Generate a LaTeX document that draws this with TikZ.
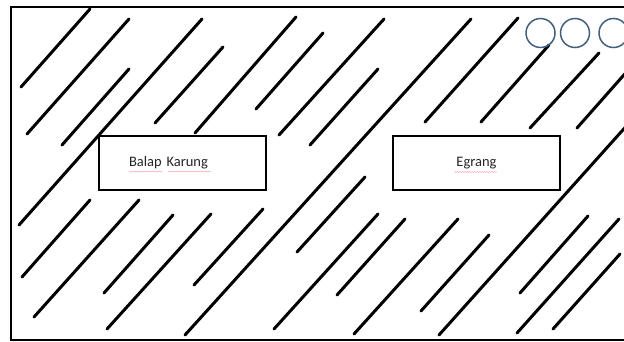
\documentclass[tikz,border=0pt]{standalone}
\usepackage{fontspec}
\setmainfont{Carlito}
\usetikzlibrary{decorations.pathmorphing}
\definecolor{circblue}{HTML}{41607F}
\tikzset{
  hatch/.style={line width=3pt, line cap=round, black},
  frameline/.style={line width=1.8pt, black},
  gamebox/.style={draw=black, line width=2.2pt, fill=white, minimum height=54pt,
    font=\fontsize{14.5}{17}\selectfont, text=black!85},
  ring/.style={draw=circblue, line width=1.5pt},
  squig/.style={draw=red!35, line width=0.45pt, decorate,
    decoration={snake, amplitude=0.5pt, segment length=2.5pt}}
}
\begin{document}
\begin{tikzpicture}[x=1pt, y=-1pt]
\useasboundingbox (0,0) rectangle (624,342);
\clip (0,0) rectangle (624,342);
\fill[white] (0,0) rectangle (624,342);
% frame (right side lies outside the picture)
\draw[frameline] (11,7) rectangle (660,340);
% diagonal strokes
\foreach \xa/\ya/\xb/\yb in {
  90/9/21/87, 129/19/27/134, 129/69/62/145, 202/19/19/225,
  223/47/155/123, 296/17/195/133, 323/33/256/109, 384/19/279/135,
  378/69/310/145, 471/19/185/335, 518/18/425/122, 549/45/481/122,
  599/53/530/128, 630/68/577/128, 630/122/439/335,
  90/200/22/277, 139/200/34/317, 173/215/104/293, 211/214/107/329,
  263/209/194/285, 365/177/297/252, 378/214/274/329, 405/219/337/295,
  458/219/354/334, 489/235/421/311, 588/216/520/293, 619/219/517/333,
  620/254/553/329}
  \draw[hatch] (\xa,\ya) -- (\xb,\yb);
% boxes
\node[gamebox, minimum width=167pt, text width=107pt, inner xsep=30pt, align=left]
  (bk) at (182.5,163) {Balap Karung};
\node[gamebox, minimum width=167pt] (eg) at (476.5,163) {Egrang};
% spell-check underlines
\draw[squig] (129,171.5) -- (163,171.5);
\draw[squig] (168,171.5) -- (211,171.5);
\draw[squig] (454,172) -- (497,172);
% circles
\node[ring, circle, minimum size=29pt, inner sep=0pt] (c1) at (540.5,33) {};
\node[ring, circle, minimum size=29pt, inner sep=0pt] (c2) at (575,33) {};
\node[ring, circle, minimum size=29pt, inner sep=0pt] (c3) at (613.5,33) {};
\end{tikzpicture}
\end{document}
